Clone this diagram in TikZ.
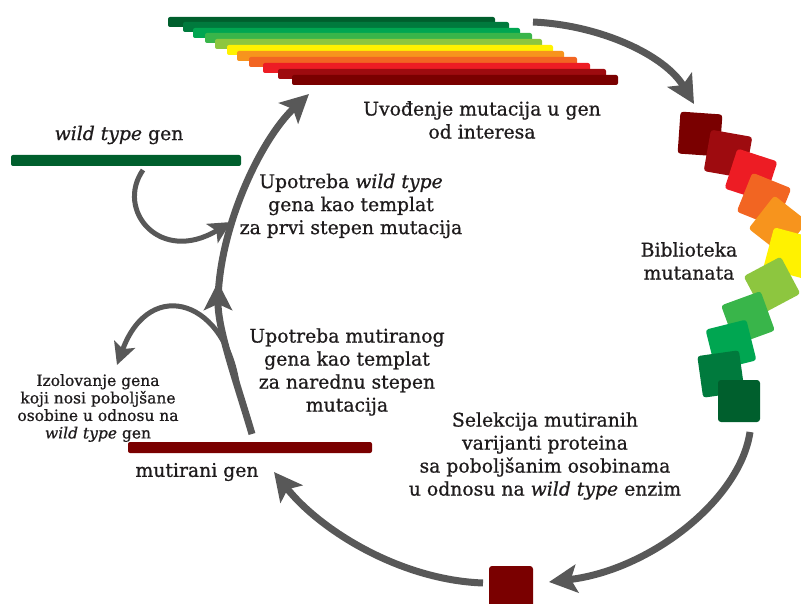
\documentclass[tikz,border=0pt]{standalone}
\usepackage{fontspec}
\setmainfont{DejaVu Serif}[FakeBold=0.8]
\usetikzlibrary{arrows.meta}

\definecolor{ink}{RGB}{30,27,28}
\definecolor{arrowgray}{RGB}{88,88,88}
\definecolor{mdarkgreen}{RGB}{0,95,45}
\definecolor{mforest}{RGB}{0,122,61}
\definecolor{mgreen}{RGB}{0,166,81}
\definecolor{mleaf}{RGB}{57,181,74}
\definecolor{mlime}{RGB}{141,198,63}
\definecolor{myellow}{RGB}{255,242,0}
\definecolor{morange}{RGB}{247,148,29}
\definecolor{mtangerine}{RGB}{242,101,34}
\definecolor{mred}{RGB}{237,28,36}
\definecolor{mcrimson}{RGB}{158,11,15}
\definecolor{mdarkred}{RGB}{122,0,0}

\tikzset{
  flow/.style={draw=arrowgray, line width=7pt, -{Stealth[length=28pt,width=28pt,inset=6pt]}},
  turn/.style={draw=arrowgray, line width=5pt, -{Stealth[length=22pt,width=22pt,inset=5pt]}},
  mutbox/.style={minimum size=42pt, inner sep=0pt, rounded corners=3pt},
  lbl/.style={align=center, text=ink, font=\fontsize{18.8}{23}\selectfont},
  smalllbl/.style={align=center, text=ink, font=\fontsize{15.5}{17.5}\selectfont},
}

\begin{document}
\begin{tikzpicture}[x=1pt, y=-1pt]
\useasboundingbox (0,0) rectangle (801,604);
\clip (0,0) rectangle (801,604);

% library of mutated genes
\fill[mdarkgreen, rounded corners=2pt] (168,17) rectangle (495,27);
\fill[mforest, rounded corners=2pt] (183,22) rectangle (509,32);
\fill[mgreen, rounded corners=2pt] (193,28) rectangle (520,38);
\fill[mleaf, rounded corners=2pt] (205,33) rectangle (532,43);
\fill[mlime, rounded corners=2pt] (215,39) rectangle (542,49);
\fill[myellow, rounded corners=2pt] (227,45) rectangle (553,55);
\fill[morange, rounded corners=2pt] (237,51) rectangle (564,61);
\fill[mtangerine, rounded corners=2pt] (249,57) rectangle (577,67);
\fill[mred, rounded corners=2pt] (263,63) rectangle (590,73);
\fill[mcrimson, rounded corners=2pt] (278,69) rectangle (606,79);
\fill[mdarkred, rounded corners=2pt] (292,75) rectangle (618,85);

% single genes
\fill[mdarkgreen, rounded corners=2pt] (11,155) rectangle (241,166);
\fill[mdarkred, rounded corners=2pt] (128,442) rectangle (372,453);

% protein variants
\node[mutbox, fill=mdarkred, rotate=-4] (m1) at (700,134) {};
\node[mutbox, fill=mcrimson, rotate=-10] (m2) at (728,154) {};
\node[mutbox, fill=mred, rotate=-18] (m3) at (751,175) {};
\node[mutbox, fill=mtangerine, rotate=-22] (m4) at (764,200) {};
\node[mutbox, fill=morange, rotate=-38] (m5) at (778,225) {};
\node[mutbox, fill=myellow, rotate=-15] (m6) at (789,253) {};
\node[mutbox, fill=mlime, rotate=28] (m7) at (772,285) {};
\node[mutbox, fill=mleaf, rotate=20] (m8) at (748,318) {};
\node[mutbox, fill=mgreen, rotate=14] (m9) at (731,345) {};
\node[mutbox, fill=mforest, rotate=8] (m10) at (721,374) {};
\node[mutbox, fill=mdarkgreen] (m11) at (739,401) {};
\node[mutbox, fill=mdarkred, minimum size=44pt] (best) at (511,588) {};

% arrow ends
\coordinate (libout) at (533,22);
\coordinate (libin) at (694,104);
\coordinate (selout) at (750,432);
\coordinate (selin) at (549,582);
\coordinate (bestout) at (483,583);
\coordinate (mutin) at (274,472);
\coordinate (mutout) at (252,434);
\coordinate (mid) at (218,282);
\coordinate (midout) at (218,304);
\coordinate (topin) at (309,94);
\coordinate (wildout) at (143,170);
\coordinate (wildin) at (231,222);
\coordinate (isolout) at (238,390);
\coordinate (isolin) at (117,365);

\draw[flow] (libout) .. controls (600,25) and (665,55) .. (libin);
\draw[flow] (selout) .. controls (740,500) and (650,570) .. (selin);
\draw[flow] (bestout) .. controls (400,580) and (320,530) .. (mutin);
\draw[flow] (mutout) .. controls (236,380) and (218,330) .. (mid);
\draw[flow] (midout) .. controls (218,230) and (260,140) .. (topin);
\draw[turn] (wildout) .. controls (115,210) and (160,265) .. (wildin);
\draw[turn] (isolout) .. controls (228,300) and (150,275) .. (isolin);

% texts
\node[lbl] (intro) at (482,120) {Uvođenje mutacija u gen\\od interesa};
\node[lbl] (wildlbl) at (119,135) {\textit{wild type} gen};
\node[lbl] (firstlbl) at (351,206) {Upotreba \textit{wild type}\\gena kao templat\\za prvi stepen mutacija};
\node[lbl] (nextlbl) at (347,372) {Upotreba mutiranog\\gena kao templat\\za narednu stepen\\mutacija};
\node[smalllbl] (isollbl) at (98,408) {Izolovanje gena\\koji nosi poboljšane\\osobine u odnosu na\\\textit{wild type} gen};
\node[lbl] (mutlbl) at (197,472) {mutirani gen};
\node[lbl] (liblbl) at (689,261) {Biblioteka\\mutanata};
\node[lbl] (sellbl) at (545,456) {Selekcija mutiranih\\varijanti proteina\\sa poboljšanim osobinama\\u odnosu na \textit{wild type} enzim};

\end{tikzpicture}
\end{document}
